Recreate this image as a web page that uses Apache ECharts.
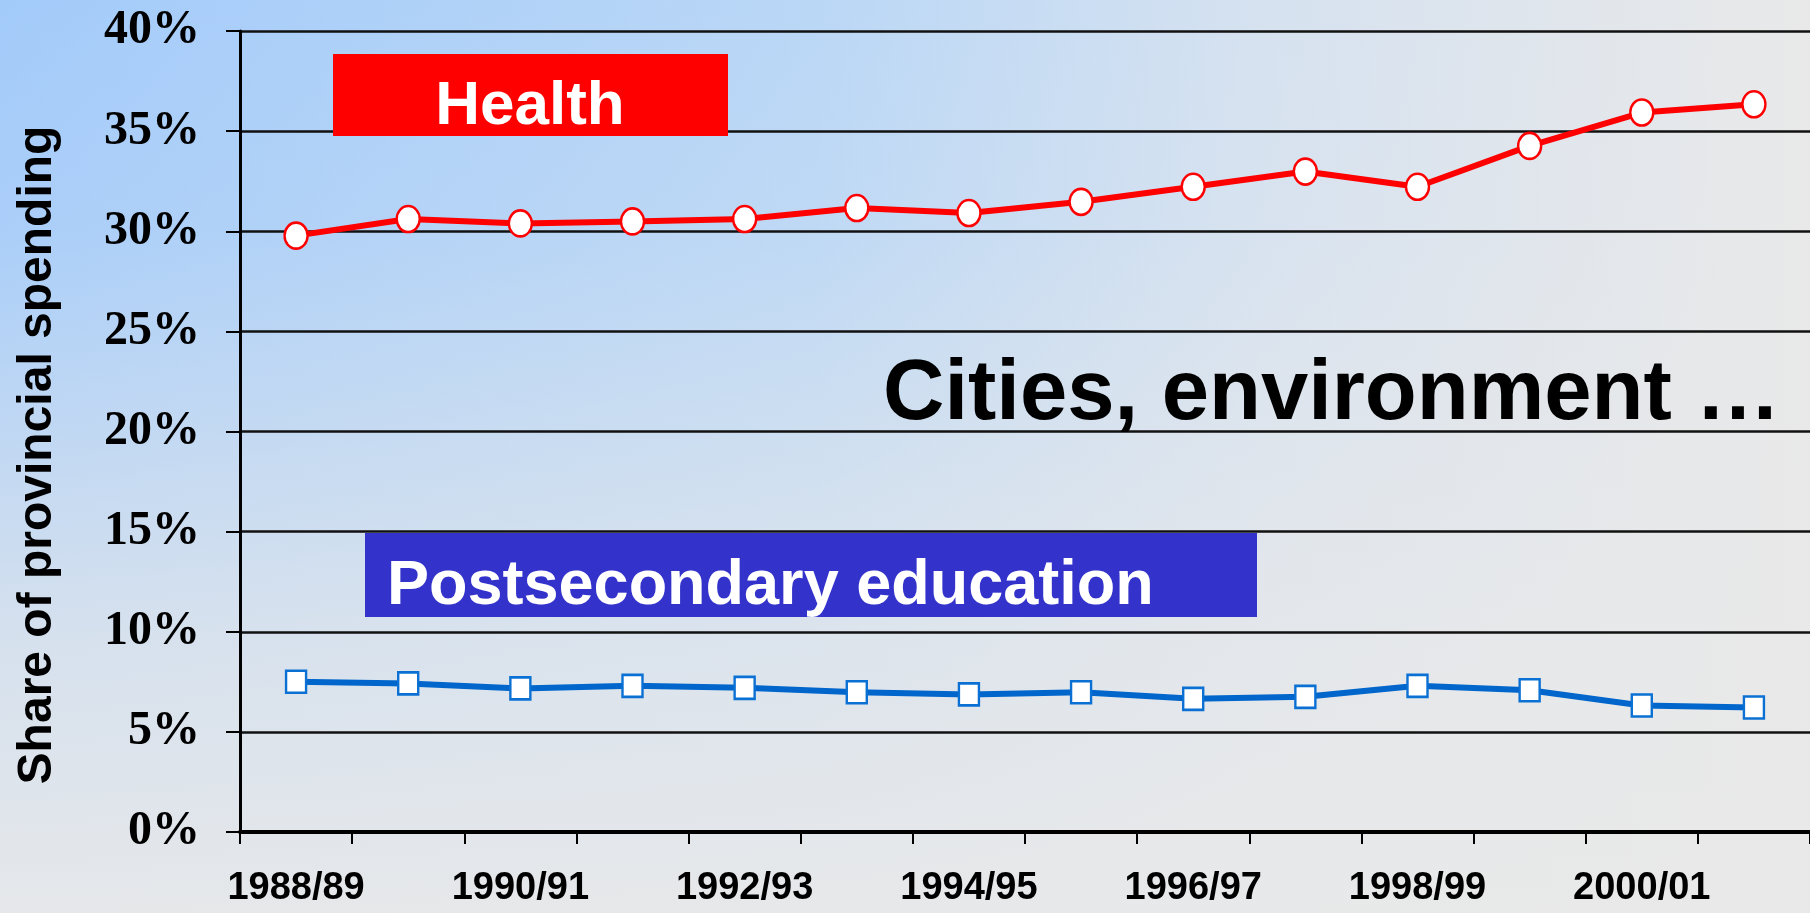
<!DOCTYPE html>
<html><head><meta charset="utf-8">
<script src="https://cdn.jsdelivr.net/npm/echarts@6/dist/echarts.min.js"></script>
<style>html,body{margin:0;padding:0;overflow:hidden;}#c{width:1810px;height:913px;}</style>
</head><body><div id="c"></div>
<script>
const categories = ['1988/89','1989/90','1990/91','1991/92','1992/93','1993/94','1994/95','1995/96','1996/97','1997/98','1998/99','1999/00','2000/01','2001/02'];
const xTickLabels = ['1988/89','1990/91','1992/93','1994/95','1996/97','1998/99','2000/01'];
const yTickValues = [0,5,10,15,20,25,30,35,40];
const health = [29.78,30.61,30.39,30.49,30.61,31.16,30.91,31.47,32.22,32.98,32.22,34.26,35.93,36.34];
const education = [7.50,7.42,7.17,7.30,7.20,6.98,6.87,6.98,6.65,6.75,7.30,7.08,6.32,6.22];
const yAxisTitle = 'Share of provincial spending';
const healthLabel = 'Health';
const eduLabel = 'Postsecondary education';
const citiesLabel = 'Cities, environment …';

const chart = echarts.init(document.getElementById('c'), null, {renderer:'canvas'});
const sans = '"Liberation Sans", Arial, sans-serif';
const serif = '"Liberation Serif", "Times New Roman", serif';

chart.setOption({
  animation: false,
  backgroundColor: '#e9e9e9',
  grid: {left: 240, top: 31, width: 1577, height: 801, containLabel: false},
  xAxis: {
    type: 'category',
    data: categories,
    boundaryGap: true,
    axisLine: {show: true, lineStyle: {color: '#000', width: 4}},
    axisTick: {show: true, interval: 0, length: 12, lineStyle: {color: '#000', width: 2}},
    axisLabel: {
      interval: 0,
      margin: 38,
      fontFamily: sans, fontWeight: 'bold', fontSize: 38, color: '#000',
      formatter: v => xTickLabels.indexOf(v) >= 0 ? v : ''
    },
    splitLine: {show: false}
  },
  yAxis: {
    type: 'value',
    min: yTickValues[0],
    max: yTickValues[yTickValues.length - 1],
    interval: yTickValues[1] - yTickValues[0],
    axisLine: {show: true, lineStyle: {color: '#000', width: 3}},
    axisTick: {show: true, length: 14, lineStyle: {color: '#000', width: 2}},
    axisLabel: {
      margin: 40,
      fontFamily: serif, fontWeight: 'bold', fontSize: 48, color: '#000',
      formatter: '{value}%'
    },
    splitLine: {show: true, lineStyle: {color: '#111', width: 2.5}}
  },
  series: [
    {
      name: 'Health', type: 'line', data: health,
      symbol: 'circle', symbolSize: [23, 26],
      lineStyle: {color: '#ff0000', width: 6},
      itemStyle: {color: '#ffffff', borderColor: '#ff0000', borderWidth: 2.5},
      z: 5
    },
    {
      name: 'Postsecondary education', type: 'line', data: education,
      symbol: 'rect', symbolSize: [20, 22],
      lineStyle: {color: '#0066cc', width: 6},
      itemStyle: {color: '#ffffff', borderColor: '#0a70d4', borderWidth: 2.5},
      z: 5
    }
  ],
  graphic: [
    {type: 'rect', z: -100, silent: true, shape: {x: 0, y: 0, width: 1810, height: 913},
      style: {fill: {type: 'linear', x: 0, y: 0, x2: 1, y2: 0, colorStops: [
        {offset: 0, color: '#a3cbfa'}, {offset: 0.45, color: '#bad7f6'},
        {offset: 0.7, color: '#d6e2f0'}, {offset: 1, color: '#e9e9e9'}]}}},
    {type: 'rect', z: -99, silent: true, shape: {x: 0, y: 0, width: 1810, height: 913},
      style: {fill: {type: 'linear', x: 0, y: 0, x2: 0, y2: 1, colorStops: [
        {offset: 0, color: 'rgba(233,233,233,0)'}, {offset: 0.25, color: 'rgba(233,233,233,0.1)'},
        {offset: 0.7, color: 'rgba(233,233,233,0.72)'}, {offset: 1, color: 'rgba(233,233,233,0.95)'}]}}},
    {type: 'rect', z: 10, shape: {x: 333, y: 54, width: 395, height: 82}, style: {fill: '#ff0000'}},
    {type: 'text', z: 11, x: 530, y: 107, style: {text: healthLabel, fill: '#fff',
      font: 'bold 62px ' + sans, textAlign: 'center', textVerticalAlign: 'middle'}},
    {type: 'rect', z: 10, shape: {x: 365, y: 533, width: 892, height: 84}, style: {fill: '#3333cc'}},
    {type: 'text', z: 11, x: 387, y: 587, style: {text: eduLabel, fill: '#fff',
      font: 'bold 63px ' + sans, textAlign: 'left', textVerticalAlign: 'middle'}},
    {type: 'text', z: 11, x: 883, y: 396, style: {text: citiesLabel, fill: '#000',
      font: 'bold 85px ' + sans, textAlign: 'left', textVerticalAlign: 'middle'}},
    {type: 'text', z: 11, x: 38, y: 455, rotation: Math.PI / 2, style: {text: yAxisTitle, fill: '#000',
      font: 'bold 48px ' + sans, textAlign: 'center', textVerticalAlign: 'middle'}}
  ]
});
</script>
</body></html>
